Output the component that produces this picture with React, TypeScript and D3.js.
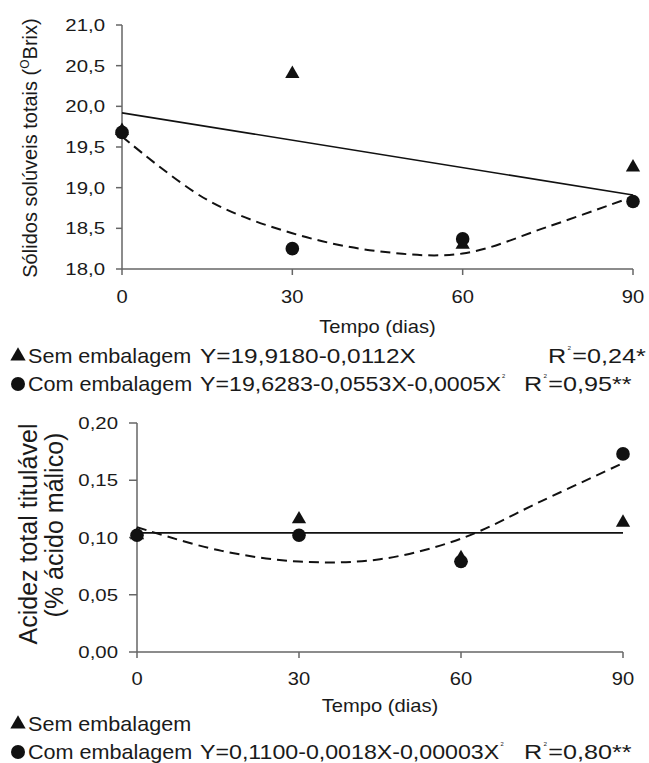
import React from "react";
import * as d3 from "d3";

// dias de armazenamento
const days = [0, 30, 60, 90];
const fitDays = [0, 15, 30, 45, 60, 75, 90];
const lineDays = [0, 90];

// sólidos solúveis totais (ºBrix)
const brixSem = [19.7, 20.4, 18.3, 19.25];
const brixCom = [19.68, 18.25, 18.37, 18.83];
const brixSemFit = [19.92, 18.91];
const brixComFit = [19.63, 18.85, 18.44, 18.22, 18.19, 18.52, 18.89];
const brixTicks = [18, 18.5, 19, 19.5, 20, 20.5, 21];

// acidez total titulável (% ácido málico)
const acidSem = [0.102, 0.116, 0.082, 0.113];
const acidCom = [0.102, 0.102, 0.079, 0.173];
const acidSemFit = [0.104, 0.104];
const acidComFit = [0.109, 0.089, 0.079, 0.081, 0.099, 0.132, 0.165];
const acidTicks = [0, 0.05, 0.1, 0.15, 0.2];

const FONT = "'Liberation Sans', Arial, sans-serif";
const fmt1 = (v: number) => v.toFixed(1).replace(".", ",");
const fmt2 = (v: number) => v.toFixed(2).replace(".", ",");

const T = ({ x, y, size, sx = 1, anchor = "start", rot = 0, children }: any) => (
  <text
    transform={`translate(${x},${y}) rotate(${rot}) scale(${sx},1)`}
    fontSize={size}
    textAnchor={anchor}
    fontFamily={FONT}
    fill="#1a1a1a"
  >
    {children}
  </text>
);

const Tri = ({ cx, cy, s = 14 }: any) => (
  <path d={d3.symbol(d3.symbolTriangle, s * s * 0.45)()!} transform={`translate(${cx},${cy})`} fill="#111" />
);

const Dot = ({ cx, cy, r = 6.5 }: any) => <circle cx={cx} cy={cy} r={r} fill="#111" />;

// expoente minúsculo, como no original
const Sq = ({ after = "" }: any) => (
  <>
    <tspan fontSize={5} dy={-13} dx={1}>2</tspan>
    <tspan dy={13} dx={after ? 1 : 0}>{after}</tspan>
  </>
);

function Panel({ x0, x1, y0, y1, domain, ticks, fmt, sem, com, semFit, comFit, tickLen, yLabelX, xLabelY, xTitleY }: any) {
  const x = d3.scaleLinear().domain([0, 90]).range([x0, x1]);
  const y = d3.scaleLinear().domain(domain).range([y0, y1]);
  const straight = d3.line<number>().x((_, i) => x(lineDays[i])).y((d) => y(d));
  const curve = d3
    .line<number>()
    .x((_, i) => x(fitDays[i]))
    .y((d) => y(d))
    .curve(d3.curveCatmullRom.alpha(0.5));
  return (
    <g>
      <line x1={x0} x2={x0} y1={y(domain[1])} y2={y(domain[0])} stroke="#666" strokeWidth={1.5} />
      <line x1={x0} x2={x1} y1={y(domain[0])} y2={y(domain[0])} stroke="#666" strokeWidth={1.5} />
      {ticks.map((t: number) => (
        <g key={t}>
          <line x1={x0 - tickLen} x2={x0} y1={y(t)} y2={y(t)} stroke="#666" strokeWidth={1.5} />
          <T x={yLabelX} y={y(t) + 6} size={17} sx={1.2} anchor="end">
            {fmt(t)}
          </T>
        </g>
      ))}
      {days.map((d) => (
        <g key={d}>
          <line x1={x(d)} x2={x(d)} y1={y(domain[0])} y2={y(domain[0]) + 6} stroke="#666" strokeWidth={1.5} />
          <T x={x(d)} y={xLabelY} size={18} sx={1.12} anchor="middle">
            {d}
          </T>
        </g>
      ))}
      <T x={(x0 + x1) / 2} y={xTitleY} size={18} sx={1.12} anchor="middle">
        Tempo (dias)
      </T>
      <path d={straight(semFit)!} fill="none" stroke="#111" strokeWidth={1.6} />
      <path d={curve(comFit)!} fill="none" stroke="#111" strokeWidth={2} strokeDasharray="10,6" />
      {sem.map((v: number, i: number) => (
        <Tri key={"s" + i} cx={x(days[i])} cy={y(v)} />
      ))}
      {com.map((v: number, i: number) => (
        <Dot key={"c" + i} cx={x(days[i])} cy={y(v)} r={6.8} />
      ))}
    </g>
  );
}

export default function App() {
  const EQ = 1.16;
  const RS = 1.26;
  return (
    <svg width={649} height={763} style={{ position: "absolute", left: 0, top: 0, background: "#fff" }}>
      <Panel
        x0={122}
        x1={633}
        y0={269}
        y1={25}
        domain={[18, 21]}
        ticks={brixTicks}
        fmt={fmt1}
        sem={brixSem}
        com={brixCom}
        semFit={brixSemFit}
        comFit={brixComFit}
        tickLen={6}
        yLabelX={105}
        xLabelY={303}
        xTitleY={333}
      />
      <text transform="translate(37,148) rotate(-90)" fontSize={20} textAnchor="middle" fontFamily={FONT} fill="#1a1a1a">
        Sólidos solúveis totais (<tspan fontSize={12} dy={-8}>O</tspan>
        <tspan dy={8}>Brix)</tspan>
      </text>

      {/* legenda superior */}
      <Tri cx={18} cy={356} s={15} />
      <T x={28} y={363} size={20} sx={1.08}>Sem embalagem</T>
      <T x={200} y={363} size={20} sx={1.22}>Y=19,9180-0,0112X</T>
      <T x={548} y={363} size={20} sx={RS}>R<Sq after="=0,24*" /></T>

      <Dot cx={18} cy={384} r={7} />
      <T x={28} y={391} size={20} sx={1.08}>Com embalagem</T>
      <T x={200} y={391} size={20} sx={EQ}>Y=19,6283-0,0553X-0,0005X<Sq /></T>
      <T x={524} y={391} size={20} sx={RS}>R<Sq after="=0,95**" /></T>

      <Panel
        x0={137}
        x1={623}
        y0={652}
        y1={423}
        domain={[0, 0.2]}
        ticks={acidTicks}
        fmt={fmt2}
        sem={acidSem}
        com={acidCom}
        semFit={acidSemFit}
        comFit={acidComFit}
        tickLen={8}
        yLabelX={118}
        xLabelY={685}
        xTitleY={712}
      />
      <text transform="translate(37,534) rotate(-90)" fontSize={25} textAnchor="middle" fontFamily={FONT} fill="#1a1a1a">
        Acidez total titulável
      </text>
      <text transform="translate(63,525) rotate(-90)" fontSize={25} textAnchor="middle" fontFamily={FONT} fill="#1a1a1a">
        (% ácido málico)
      </text>

      {/* legenda inferior */}
      <Tri cx={18} cy={724} s={15} />
      <T x={28} y={731} size={20} sx={1.08}>Sem embalagem</T>
      <Dot cx={18} cy={752} r={7} />
      <T x={28} y={759} size={20} sx={1.08}>Com embalagem</T>
      <T x={200} y={759} size={20} sx={EQ}>Y=0,1100-0,0018X-0,00003X<Sq /></T>
      <T x={524} y={759} size={20} sx={RS}>R<Sq after="=0,80**" /></T>
    </svg>
  );
}
